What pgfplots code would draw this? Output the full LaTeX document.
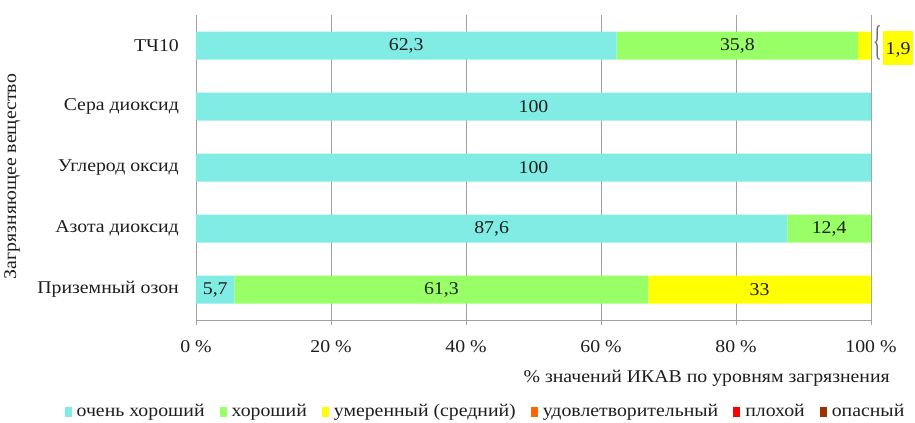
\documentclass[border=0pt]{standalone}
\usepackage{pgfplots}
\pgfplotsset{compat=1.18}
\usepackage{fontspec}
\setmainfont{Liberation Serif}[FakeStretch=1.1]
\usepackage{graphicx}
\definecolor{cvh}{RGB}{128,236,228}
\definecolor{cgood}{RGB}{153,255,102}
\definecolor{cmod}{RGB}{255,255,0}
\definecolor{csat}{RGB}{255,102,0}
\definecolor{cbad}{RGB}{255,0,0}
\definecolor{cdan}{RGB}{153,51,0}
\definecolor{txt}{RGB}{30,30,30}
\definecolor{gridc}{RGB}{160,160,160}
\begin{document}
\fontsize{18bp}{22bp}\selectfont
\begin{tikzpicture}
\path[use as bounding box] (-196bp,-103bp) rectangle (719bp,320bp);
\pgfplotsset{
  base/.style={
    scale only axis, width=675bp, height=305bp,
    at={(0,0)}, anchor=south west,
    xmin=0, xmax=100, ymin=-0.5, ymax=4.5,
    font=\fontsize{18bp}{22bp}\selectfont\color{txt},
  }
}
\begin{axis}[base,
  xbar stacked, bar width=28bp,
  axis line style={gridc},
  axis x line*=bottom, axis y line*=left,
  xtick={0,20,40,60,80,100},
  xticklabels={0 \%,20 \%,40 \%,60 \%,80 \%,100 \%},
  xmajorgrids, grid style={gridc, line width=0.6pt},
  major tick length=5bp,
  x tick style={gridc, line width=0.6pt},
  tick align=outside,
  xticklabel style={yshift=-9bp},
  ytick={0,1,2,3,4},
  yticklabels={Приземный озон, Азота диоксид, Углерод оксид, Сера диоксид, ТЧ10},
  y tick style={draw=none},
  minor ytick={-0.5,0.5,1.5,2.5,3.5,4.5},
  minor tick length=8bp,
  minor y tick style={gridc, line width=0.6pt},
  yticklabel style={xshift=-6bp},
  ylabel={Загрязняющее вещество},
  ylabel style={at={(rel axis cs:0,0.5)}, anchor=center, rotate=0, yshift=184bp, xshift=-9bp},
  xlabel={\% значений ИКАВ по уровням загрязнения},
  xlabel style={at={(rel axis cs:1,0)}, anchor=north east, xshift=25bp, yshift=-44bp},
  legend columns=6,
  legend style={draw=none, fill=none, at={(rel axis cs:0.5,0)}, anchor=north,
    xshift=-48bp, yshift=-80bp,
    font=\fontsize{18bp}{22bp}\selectfont\color{txt},
    /tikz/every odd column/.append style={column sep=3bp},
    /tikz/every even column/.append style={column sep=13bp}},
  legend image code/.code={\fill[#1] (0bp,-5bp) rectangle (7bp,5bp);},
  clip=false,
]
\addplot[fill=cvh, draw=none] coordinates {(62.3,4) (100,3) (100,2) (87.6,1) (5.7,0)};
\addlegendentry{очень хороший}
\addplot[fill=cgood, draw=none] coordinates {(35.8,4) (0,3) (0,2) (12.4,1) (61.3,0)};
\addlegendentry{хороший}
\addplot[fill=cmod, draw=none] coordinates {(1.9,4) (0,3) (0,2) (0,1) (33,0)};
\addlegendentry{умеренный (средний)}
\addlegendimage{fill=csat, draw=none}
\addlegendentry{удовлетворительный}
\addlegendimage{fill=cbad, draw=none}
\addlegendentry{плохой}
\addlegendimage{fill=cdan, draw=none}
\addlegendentry{опасный}
\end{axis}
\begin{axis}[base, hide axis, clip=false,
  nodes near coords, point meta=explicit symbolic,
  every node near coord/.append style={anchor=center, font=\fontsize{18bp}{22bp}\selectfont\color{txt}},
]
\addplot[only marks, mark=none] table[meta=label] {
x y label
31.15 4 62,3
80.2 4 35,8
50 3 100
50 2 100
43.8 1 87,6
93.8 1 12,4
2.85 0 5,7
36.35 0 61,3
83.5 0 33
};
\addplot[only marks, mark=none, nodes near coords={\textcolor{gray!80!black}{\scalebox{0.9}[2.3]{\{}}\hspace{1bp}\colorbox{cmod}{\rule[-8bp]{0pt}{28bp}1,9}}, every node near coord/.append style={anchor=west, xshift=2bp, inner sep=0pt}] table[meta=label] {
x y label
100 4 1,9
};
\end{axis}
\end{tikzpicture}
\end{document}
